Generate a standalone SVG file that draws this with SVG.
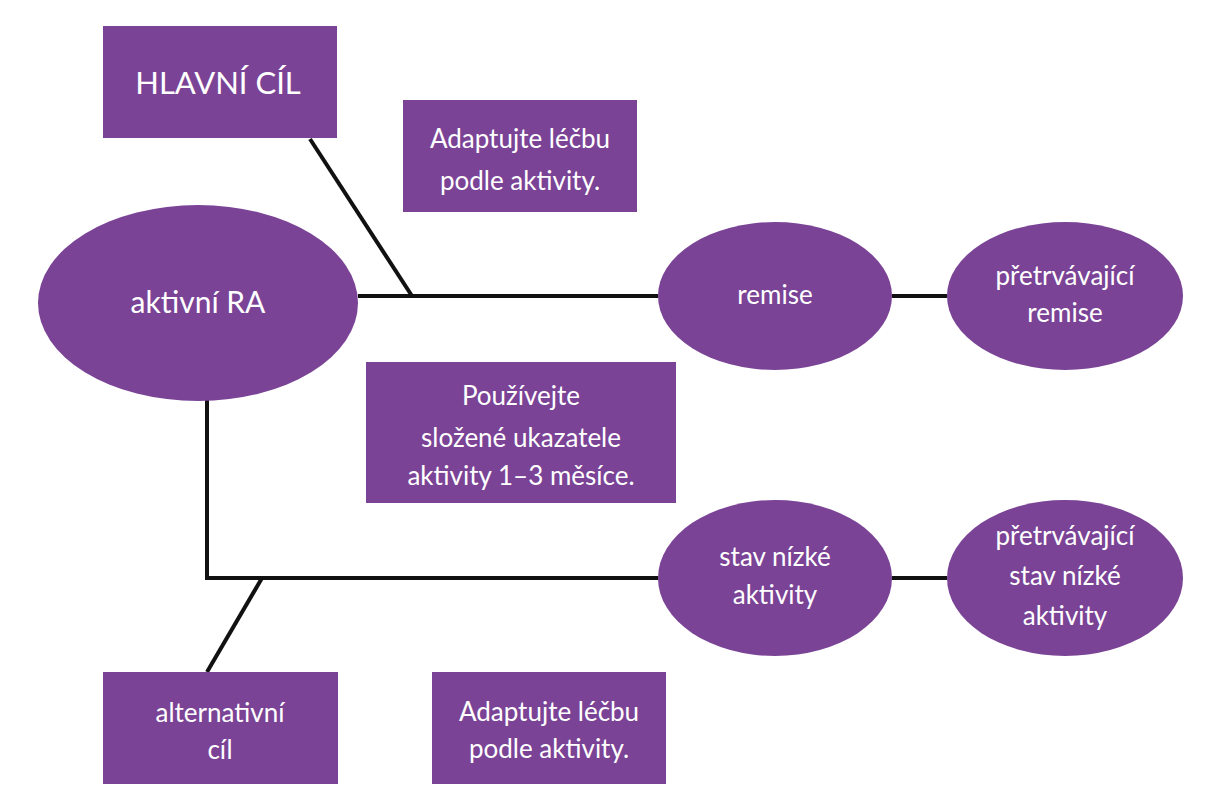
<svg xmlns="http://www.w3.org/2000/svg" width="1215" height="800" viewBox="0 0 1215 800">
<style>
.n{fill:#7a4396}
.t{fill:#fff;font-family:Lato,"Open Sans",sans-serif;font-size:26px;text-anchor:middle}
.c{stroke:#111;stroke-width:4;fill:none}
</style>
<rect width="1215" height="800" fill="#fff"/>
<g id="connectors">
<line class="c" x1="358" y1="296" x2="658" y2="296"/>
<line class="c" x1="310" y1="139" x2="412" y2="296"/>
<line class="c" x1="892" y1="296" x2="947" y2="296"/>
<polyline class="c" points="207,400 207,578 658,578"/>
<line class="c" x1="262" y1="578" x2="207" y2="672"/>
<line class="c" x1="892" y1="578" x2="947" y2="578"/>
</g>
<g id="hlavni"><rect class="n" x="103" y="26" width="234" height="112"/><text class="t" x="218" y="94" style="font-size:31px">HLAVNÍ CÍL</text></g>
<g id="adapt1"><rect class="n" x="403" y="100" width="234" height="112"/><text class="t" x="520" y="148">Adaptujte léčbu</text><text class="t" x="520" y="190">podle aktivity.</text></g>
<g id="aktivni"><ellipse class="n" cx="198" cy="303" rx="160" ry="98"/><text class="t" x="198" y="313" style="font-size:30px">aktivní RA</text></g>
<g id="remise"><ellipse class="n" cx="775" cy="296" rx="117" ry="74"/><text class="t" x="775" y="304">remise</text></g>
<g id="premise"><ellipse class="n" cx="1065" cy="296" rx="118" ry="74"/><text class="t" x="1065" y="285">přetrvávající</text><text class="t" x="1065" y="322">remise</text></g>
<g id="pouzivejte"><rect class="n" x="366" y="362" width="310" height="141"/><text class="t" x="521" y="405">Používejte</text><text class="t" x="521" y="447">složené ukazatele</text><text class="t" x="521" y="485">aktivity 1–3 měsíce.</text></g>
<g id="stav"><ellipse class="n" cx="775" cy="578" rx="117" ry="78"/><text class="t" x="775" y="566">stav nízké</text><text class="t" x="775" y="604">aktivity</text></g>
<g id="pstav"><ellipse class="n" cx="1065" cy="578" rx="118" ry="78"/><text class="t" x="1065" y="545">přetrvávající</text><text class="t" x="1065" y="585">stav nízké</text><text class="t" x="1065" y="625">aktivity</text></g>
<g id="alt"><rect class="n" x="103" y="672" width="235" height="112"/><text class="t" x="220" y="722">alternativní</text><text class="t" x="220" y="759">cíl</text></g>
<g id="adapt2"><rect class="n" x="432" y="672" width="234" height="112"/><text class="t" x="549" y="721">Adaptujte léčbu</text><text class="t" x="549" y="758">podle aktivity.</text></g>
</svg>
